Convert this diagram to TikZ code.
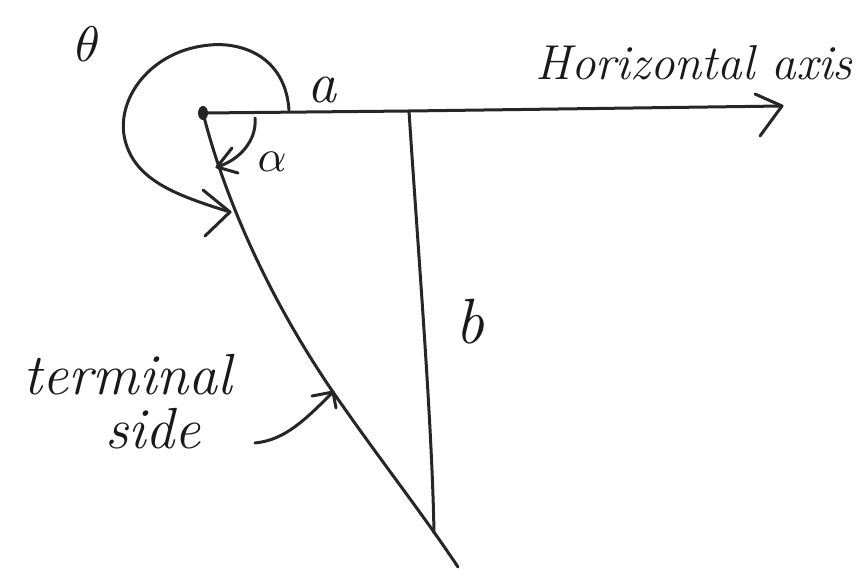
\documentclass[tikz,border=0pt]{standalone}
\usetikzlibrary{arrows.meta}
\begin{document}
\begin{tikzpicture}[x=1pt,y=-1pt,
  pen/.style={line width=3pt,draw=black!85,line cap=round,line join=round},
  lbl/.style={font=\itshape\fontsize{#1}{#1}\selectfont,inner sep=0pt,text=black!90},
  glbl/.style={inner sep=0pt,text=black!90,scale=#1}]
\useasboundingbox (0,0) rectangle (865,568);
\fill[white] (0,0) rectangle (865,568);
% points
\coordinate (O) at (203,113);
\coordinate (axEnd) at (782,106);
\coordinate (bTop) at (409,111);
\coordinate (bBot) at (434,533);
\coordinate (tEnd) at (458,567);
% origin dot
\fill[black!85] (O) ellipse (5pt and 7pt);
% horizontal axis with arrow
\draw[pen] (O) -- (bTop) -- (axEnd);
\draw[pen] (755,94) -- (axEnd) -- (760,136);
% b side
\draw[pen] (bTop) .. controls (418,250) and (432,420) .. (bBot);
% terminal side (curved)
\draw[pen] (O) .. controls (225,200) and (270,300) .. (333,392) .. controls (380,460) and (420,510) .. (tEnd);
% alpha arc
\draw[pen] (255,118) .. controls (257,140) and (240,160) .. (217,167);
\draw[pen] (232,148) -- (217,167) -- (238,173);
% theta arc
\draw[pen] (289,110) .. controls (285,55) and (240,42) .. (210,45) .. controls (150,50) and (115,100) .. (125,140) .. controls (135,180) and (175,195) .. (230,212);
\draw[pen] (203,190) -- (230,212) -- (205,236);
% terminal side pointer
\draw[pen] (255,443) .. controls (285,440) and (305,420) .. (333,392);
\draw[pen] (312,396) -- (333,392) -- (336,408);
% labels
\node[glbl=5] (theta) at (88,44) {$\theta$};
\node[lbl=58] (la) at (322,90) {a};
\node[glbl=4.5] (lalpha) at (272,162) {$\alpha$};
\node[lbl=64] (lb) at (470,322) {b};
\node[lbl=49] (lh) at (694,63) {Horizontal axis};
\node[lbl=58,align=center] (lt) at (128,402) {terminal\\[-4pt]\hspace*{50pt}side};
\end{tikzpicture}
\end{document}
